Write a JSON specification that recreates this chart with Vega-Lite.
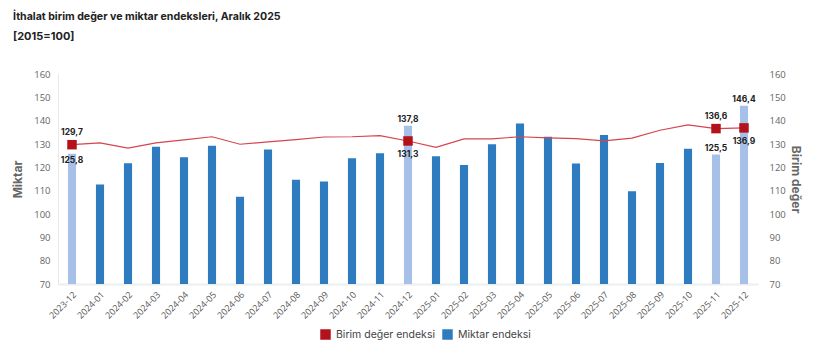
{
  "$schema": "https://vega.github.io/schema/vega-lite/v6.json",
  "width": 700,
  "height": 210,
  "autosize": {"type": "none"},
  "padding": {"left": 58, "top": 74, "right": 62, "bottom": 73},
  "config": {
    "locale": {"number": {"decimal": ",", "thousands": ".", "grouping": [3], "currency": ["", " TL"]}},
    "font": "Inter",
    "view": {"stroke": null}
  },
  "title": {
    "text": "İthalat birim değer ve miktar endeksleri, Aralık 2025",
    "subtitle": "[2015=100]",
    "anchor": "start",
    "frame": "group",
    "dx": -45,
    "offset": 27,
    "font": "Inter",
    "fontSize": 10.6,
    "fontWeight": "bold",
    "color": "#222222",
    "subtitleFont": "Inter",
    "subtitleFontSize": 11,
    "subtitleFontWeight": "bold",
    "subtitleColor": "#222222",
    "subtitlePadding": 8
  },
  "data": {
    "values": [
      {"ay": "2023-12", "miktar": 125.8, "birim": 129.7},
      {"ay": "2024-01", "miktar": 112.6, "birim": 130.5},
      {"ay": "2024-02", "miktar": 121.7, "birim": 128.2},
      {"ay": "2024-03", "miktar": 128.8, "birim": 130.5},
      {"ay": "2024-04", "miktar": 124.3, "birim": 131.8},
      {"ay": "2024-05", "miktar": 129.3, "birim": 133.1},
      {"ay": "2024-06", "miktar": 107.4, "birim": 129.9},
      {"ay": "2024-07", "miktar": 127.6, "birim": 130.9},
      {"ay": "2024-08", "miktar": 114.7, "birim": 131.9},
      {"ay": "2024-09", "miktar": 113.9, "birim": 133.0},
      {"ay": "2024-10", "miktar": 123.9, "birim": 133.1},
      {"ay": "2024-11", "miktar": 126.0, "birim": 133.6},
      {"ay": "2024-12", "miktar": 137.8, "birim": 131.3},
      {"ay": "2025-01", "miktar": 124.7, "birim": 128.6},
      {"ay": "2025-02", "miktar": 121.0, "birim": 132.2},
      {"ay": "2025-03", "miktar": 129.9, "birim": 132.2},
      {"ay": "2025-04", "miktar": 138.8, "birim": 133.1},
      {"ay": "2025-05", "miktar": 133.1, "birim": 132.6},
      {"ay": "2025-06", "miktar": 121.6, "birim": 132.3},
      {"ay": "2025-07", "miktar": 133.9, "birim": 131.3},
      {"ay": "2025-08", "miktar": 109.8, "birim": 132.5},
      {"ay": "2025-09", "miktar": 121.9, "birim": 135.9},
      {"ay": "2025-10", "miktar": 128.0, "birim": 138.2},
      {"ay": "2025-11", "miktar": 125.5, "birim": 136.6},
      {"ay": "2025-12", "miktar": 146.4, "birim": 136.9}
    ]
  },
  "encoding": {
    "x": {
      "field": "ay",
      "type": "ordinal",
      "sort": "ascending",
      "scale": {"paddingInner": 0.71, "paddingOuter": 0.355},
      "axis": {
        "title": null,
        "labelAngle": -45,
        "labelFont": "Open Sans",
        "labelFontSize": 9,
        "labelColor": "#555555",
        "labelPadding": 6,
        "labelLimit": 200,
        "labelOverlap": false,
        "ticks": false,
        "domainColor": "#eeeeee",
        "domainWidth": 2
      }
    }
  },
  "layer": [
    {
      "encoding": {
        "y": {
          "field": "miktar",
          "type": "quantitative",
          "scale": {"domain": [70, 160], "nice": false, "zero": false},
          "axis": {
            "orient": "left",
            "title": "Miktar",
            "values": [70, 80, 90, 100, 110, 120, 130, 140, 150, 160],
            "grid": false,
            "ticks": false,
            "domain": true,
            "domainColor": "#e8e8e8",
            "labelFont": "Open Sans",
            "labelFontSize": 9.5,
            "labelColor": "#666666",
            "labelPadding": 8,
            "titleFont": "Inter",
            "titleFontSize": 12,
            "titleFontWeight": "bold",
            "titleColor": "#666666",
            "titlePadding": 9
          }
        },
        "y2": {"datum": 70}
      },
      "layer": [
        {
          "transform": [{"filter": "indexof(['2023-12','2024-12','2025-11','2025-12'], datum.ay) < 0"}],
          "mark": {"type": "bar"},
          "encoding": {
            "color": {
              "datum": "Miktar endeksi",
              "type": "nominal",
              "scale": {"domain": ["Birim değer endeksi", "Miktar endeksi"], "range": ["#b3121c", "#2e7cbf"]},
              "legend": {
                "orient": "none",
                "legendX": 262,
                "legendY": 255,
                "direction": "horizontal",
                "title": null,
                "symbolType": "square",
                "symbolSize": 110,
                "symbolStrokeWidth": 0,
                "labelFont": "Inter",
                "labelFontSize": 10.5,
                "labelColor": "#444444",
                "labelOffset": 5,
                "columnPadding": 7
              }
            }
          }
        },
        {
          "transform": [{"filter": "indexof(['2023-12','2024-12','2025-11','2025-12'], datum.ay) >= 0"}],
          "mark": {"type": "bar", "color": "#a7c0e7"}
        },
        {
          "transform": [{"filter": "indexof(['2024-12','2025-11','2025-12'], datum.ay) >= 0"}],
          "mark": {"type": "text", "dy": -7, "font": "Inter", "fontSize": 8.5, "fontWeight": "bold", "color": "#222222"},
          "encoding": {"text": {"field": "miktar", "type": "quantitative", "format": ".1f"}, "y2": null}
        },
        {
          "transform": [{"filter": "datum.ay == '2023-12'"}],
          "mark": {"type": "text", "dy": 6, "font": "Inter", "fontSize": 8.5, "fontWeight": "bold", "color": "#222222"},
          "encoding": {"text": {"field": "miktar", "type": "quantitative", "format": ".1f"}, "y2": null}
        }
      ]
    },
    {
      "encoding": {
        "y": {
          "field": "birim",
          "type": "quantitative",
          "scale": {"domain": [70, 160], "nice": false, "zero": false},
          "axis": {
            "orient": "right",
            "title": "Birim değer",
            "titleAngle": 90,
            "values": [70, 80, 90, 100, 110, 120, 130, 140, 150, 160],
            "grid": false,
            "ticks": false,
            "domain": false,
            "labelFont": "Open Sans",
            "labelFontSize": 9.5,
            "labelColor": "#666666",
            "labelPadding": 11,
            "titleFont": "Inter",
            "titleFontSize": 12,
            "titleFontWeight": "bold",
            "titleColor": "#666666",
            "titlePadding": 3
          }
        }
      },
      "layer": [
        {
          "mark": {"type": "line", "color": "#d6454d", "strokeWidth": 1.2}
        },
        {
          "transform": [{"filter": "indexof(['2023-12','2024-12','2025-11','2025-12'], datum.ay) >= 0"}],
          "mark": {"type": "point", "shape": "square", "filled": true, "size": 90, "opacity": 1},
          "encoding": {
            "color": {"datum": "Birim değer endeksi", "type": "nominal"}
          }
        },
        {
          "transform": [{"filter": "indexof(['2023-12','2025-11'], datum.ay) >= 0"}],
          "mark": {"type": "text", "dy": -13, "font": "Inter", "fontSize": 8.5, "fontWeight": "bold", "color": "#222222"},
          "encoding": {"text": {"field": "birim", "type": "quantitative", "format": ".1f"}}
        },
        {
          "transform": [{"filter": "indexof(['2024-12','2025-12'], datum.ay) >= 0"}],
          "mark": {"type": "text", "dy": 13, "font": "Inter", "fontSize": 8.5, "fontWeight": "bold", "color": "#222222"},
          "encoding": {"text": {"field": "birim", "type": "quantitative", "format": ".1f"}}
        }
      ]
    }
  ],
  "resolve": {"scale": {"y": "independent"}}
}
